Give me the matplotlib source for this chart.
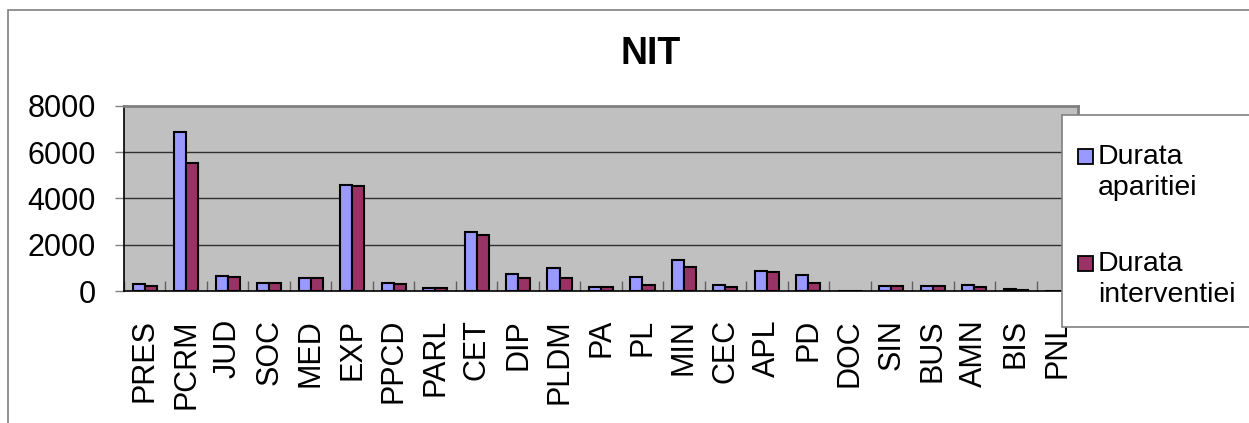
import matplotlib
matplotlib.use("Agg")
import matplotlib.pyplot as plt
from matplotlib.patches import Rectangle
import numpy as np

plt.rcParams['font.family'] = ['Liberation Sans', 'DejaVu Sans']

categories = ["PRES", "PCRM", "JUD", "SOC", "MED", "EXP", "PPCD", "PARL", "CET", "DIP",
              "PLDM", "PA", "PL", "MIN", "CEC", "APL", "PD", "DOC", "SIN", "BUS",
              "AMN", "BIS", "PNL"]
durata_aparitiei = [330, 6880, 675, 370, 575, 4570, 360, 160, 2545, 750,
                    1020, 190, 600, 1350, 290, 890, 700, 0, 215, 245,
                    290, 115, 30]
durata_interventiei = [230, 5520, 620, 370, 575, 4525, 330, 145, 2430, 575,
                       590, 190, 290, 1060, 190, 850, 375, 0, 215, 245,
                       200, 70, 25]
series_names = ["Durata\naparitiei", "Durata\ninterventiei"]
title = "NIT"
yticks = [0, 2000, 4000, 6000, 8000]

W, H = 1249, 423
fig = plt.figure(figsize=(W / 100, H / 100), dpi=100)

# chart border
fig.add_artist(Rectangle((8 / W, -0.1), 1.2, 1 - 10 / H + 0.1, transform=fig.transFigure,
                         fill=False, edgecolor="#808080", linewidth=1.2))

ax = fig.add_axes([124 / W, 1 - 291.3 / H, (1078 - 124) / W, (291.3 - 105.7) / H])
ax.set_facecolor("#C0C0C0")

x = np.arange(len(categories))
bw = 0.29
ax.bar(x - bw / 2, durata_aparitiei, bw, color="#9999FF", edgecolor="black", linewidth=1.5, zorder=3)
ax.bar(x + bw / 2, durata_interventiei, bw, color="#993366", edgecolor="black", linewidth=1.5, zorder=3)

ax.set_xlim(-0.5, len(categories) - 0.5)
ax.set_ylim(0, 8000)
ax.set_yticks(yticks)
ax.set_yticklabels([str(v) for v in yticks], fontsize=22)
ax.tick_params(axis="y", direction="out", length=6.5, width=1, color="#808080", pad=14)

ax.set_xticks(x)
ax.set_xticklabels(categories, rotation=90, fontsize=22, va="top", ha="center")
ax.tick_params(axis="x", which="major", length=0, pad=20)
ax.set_xticks(np.arange(len(categories) + 1) - 0.5, minor=True)
ax.tick_params(axis="x", which="minor", direction="in", length=7, width=1, color="#606060")

for v in yticks[1:-1]:
    ax.axhline(v, color="#303030", linewidth=1, zorder=1)

ax.spines["top"].set_color("#808080")
ax.spines["top"].set_linewidth(2)
ax.spines["right"].set_color("#808080")
ax.spines["right"].set_linewidth(2)
ax.spines["left"].set_color("black")
ax.spines["left"].set_linewidth(1.2)
ax.spines["bottom"].set_color("black")
ax.spines["bottom"].set_linewidth(1.2)

fig.text(651 / W, 1 - 54 / H, title, fontsize=27, fontweight="bold", ha="center", va="center")

# legend
lx0, ly0, lx1, ly1 = 1062, 115, 1262, 327
fig.add_artist(Rectangle((lx0 / W, 1 - ly1 / H), (lx1 - lx0) / W, (ly1 - ly0) / H,
                         transform=fig.transFigure, facecolor="white", edgecolor="#808080",
                         linewidth=1.2, zorder=5))
colors = ["#9999FF", "#993366"]
entry_tops = [144, 251]
for name, c, ty in zip(series_names, colors, entry_tops):
    sq = 15
    fig.add_artist(Rectangle((1078 / W, 1 - (ty + 5 + sq) / H), sq / W, sq / H,
                             transform=fig.transFigure, facecolor=c, edgecolor="black",
                             linewidth=1.3, zorder=6))
    fig.text(1098 / W, 1 - ty / H, name, fontsize=20.5, ha="left", va="top",
             linespacing=1.25, zorder=7)

fig.savefig("out.png", dpi=100)
